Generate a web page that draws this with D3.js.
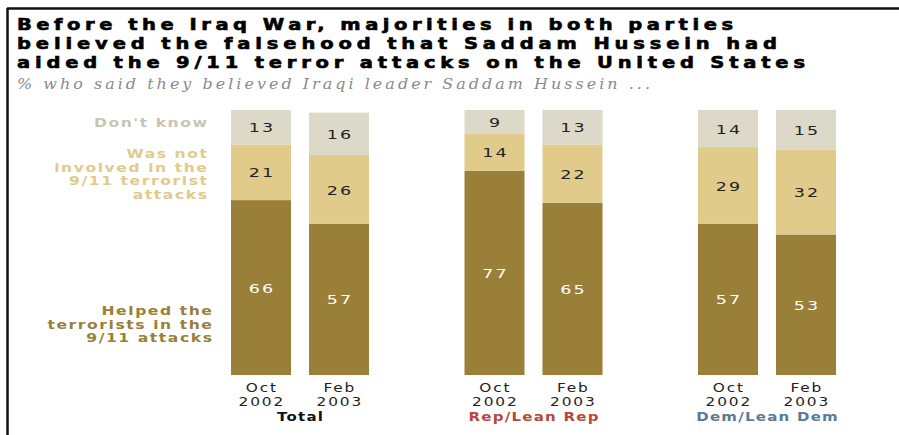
<!DOCTYPE html>
<html>
<head>
<meta charset="utf-8">
<script src="https://cdn.jsdelivr.net/npm/d3@7"></script>
<style>
  body { margin: 0; background: #fff; }
  svg { display: block; }
</style>
</head>
<body>
<div id="chart"></div>
<script>
// data
const groups = ["Total", "Rep/Lean Rep", "Dem/Lean Dem"];
const periods = ["Oct 2002", "Feb 2003"];
const series = ["Helped", "Was not involved", "Don't know"];
const helped      = [66, 57, 77, 65, 57, 53];
const notInvolved = [21, 26, 14, 22, 29, 32];
const dontKnow    = [13, 16, 9, 13, 14, 15];

const titleLines = [
  "Before the Iraq War, majorities in both parties",
  "believed the falsehood that Saddam Hussein had",
  "aided the 9/11 terror attacks on the United States"
];
const subtitle = "% who said they believed Iraqi leader Saddam Hussein ...";
const legendLines = [
  ["Don't know"],
  ["Was not", "involved in the", "9/11 terrorist", "attacks"],
  ["Helped the", "terrorists in the", "9/11 attacks"]
];

const colors = {"Helped": "#9a7f38", "Was not involved": "#e0cb8b", "Don't know": "#dcd9c8"};
const legendColors = ["#c9c5b2", "#e0cb8b", "#9a7f38"];
const groupColors = ["#111", "#b5483b", "#5a7a99"];

const W = 899, H = 435;
const FONT = "'DejaVu Sans', sans-serif";
const svg = d3.select("#chart").append("svg").attr("width", W).attr("height", H);

// text drawn a bit wider than DejaVu, like the wide gothic in the original
function wideText(parent, x, y, sx) {
  return parent.append("text")
    .attr("transform", `translate(${x},${y}) scale(${sx},1)`)
    .style("font-family", FONT);
}

// frame
svg.append("line").attr("x1", 7).attr("x2", W).attr("y1", 8.5).attr("y2", 8.5)
  .attr("stroke", "#111").attr("stroke-width", 2.5);
svg.append("line").attr("x1", 7.5).attr("x2", 7.5).attr("y1", 8).attr("y2", H)
  .attr("stroke", "#111").attr("stroke-width", 2.5);

// title
const titleWidths = [716, 760, 788];
titleLines.forEach((t, i) => {
  wideText(svg, 17, 30 + i * 19, 1.25)
    .attr("textLength", titleWidths[i] / 1.25)
    .attr("lengthAdjust", "spacing")
    .style("font-weight", "bold").style("font-size", "15.6px")
    .style("fill", "#000").style("stroke", "#000").style("stroke-width", "0.6px")
    .text(t);
});

wideText(svg, 17, 89, 1.1)
  .attr("textLength", 633 / 1.1).attr("lengthAdjust", "spacing")
  .style("font-family", "'DejaVu Serif', serif").style("font-style", "italic")
  .style("font-size", "14.5px").style("fill", "#8a8a8a")
  .text(subtitle);

// scales
const gx = d3.scaleBand().domain(groups).range([183.25, 883.75]);
const y = d3.scaleLinear().domain([0, 100]).range([375, 110]);

const rows = [];
groups.forEach((g, gi) => {
  periods.forEach((p, pi) => {
    const i = gi * 2 + pi;
    rows.push({group: g, period: p, "Helped": helped[i], "Was not involved": notInvolved[i], "Don't know": dontKnow[i]});
  });
});
const stacked = d3.stack().keys(series)(rows);

const px = g => {
  const c = gx(g) + gx.bandwidth() / 2;
  return d3.scaleBand().domain(periods).range([c - 69, c + 69]).paddingInner(18 / 78);
};
const barMid = d => px(d.data.group)(d.data.period) + px(d.data.group).bandwidth() / 2;

const layer = svg.append("g").selectAll("g").data(stacked).join("g")
  .attr("fill", d => colors[d.key]);
layer.selectAll("rect").data(d => d).join("rect")
  .attr("x", d => px(d.data.group)(d.data.period))
  .attr("width", d => px(d.data.group).bandwidth())
  .attr("y", d => y(d[1]))
  .attr("height", d => y(d[0]) - y(d[1]));

// values in bars
const lbl = svg.append("g");
stacked.forEach(s => {
  s.forEach(d => {
    wideText(lbl, barMid(d) + 1, (y(d[0]) + y(d[1])) / 2 + 5, 1.35)
      .attr("text-anchor", "middle")
      .style("font-size", "13px").style("letter-spacing", "1.5px")
      .style("fill", s.key === "Helped" ? "#fff" : "#222")
      .text(d.data[s.key]);
  });
});

// x labels
groups.forEach((g, gi) => {
  const sx = px(g);
  periods.forEach(p => {
    p.split(" ").forEach((part, k) => {
      wideText(svg, sx(p) + sx.bandwidth() / 2 + 0.8, 392 + k * 13.5, 1.18)
        .attr("text-anchor", "middle")
        .style("font-size", "13px").style("letter-spacing", "1.6px").style("fill", "#222")
        .text(part);
    });
  });
  wideText(svg, gx(g) + gx.bandwidth() / 2 + 0.6, 421, 1.25)
    .attr("text-anchor", "middle")
    .style("font-weight", "bold").style("font-size", "12px").style("letter-spacing", "1px")
    .style("fill", groupColors[gi])
    .text(g);
});

// legend labels on left
const legendY = [127, 158, 315];
const legendRight = [207, 207, 212];
legendLines.forEach((lines, li) => {
  lines.forEach((line, k) => {
    wideText(svg, legendRight[li] + 1.5, legendY[li] + k * 13.5, 1.3)
      .attr("text-anchor", "end")
      .style("font-weight", "bold").style("font-size", "12px").style("letter-spacing", "1.2px")
      .style("fill", legendColors[li])
      .text(line);
  });
});
</script>
</body>
</html>
